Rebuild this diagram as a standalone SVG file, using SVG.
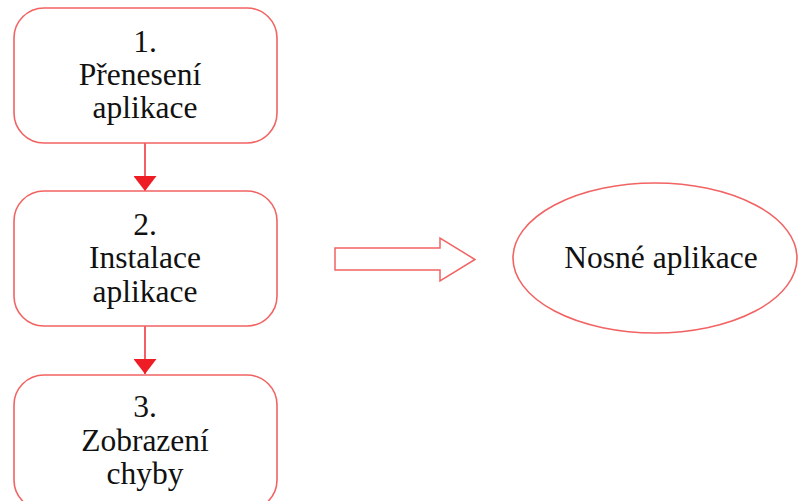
<svg xmlns="http://www.w3.org/2000/svg" width="798" height="501" viewBox="0 0 798 501">
<defs>
<style>
.box{fill:#fff;stroke:#f26363;stroke-width:1.6}
.t{font-size:31.5px;fill:#111;text-anchor:middle}
.c{stroke:#ee2a34;stroke-width:1.5;fill:none}
</style>
<marker id="ah" markerWidth="15" markerHeight="23" refX="23" refY="7.5" orient="auto" markerUnits="userSpaceOnUse" viewBox="0 0 23 15" preserveAspectRatio="none">
<path d="M0,0 L23,7.5 L0,15 Z" fill="#ee1c25"/>
</marker>
</defs>
<rect width="798" height="501" fill="#fff"/>
<g id="connectors">
<line class="c" x1="145" y1="143" x2="145" y2="191" marker-end="url(#ah)"/>
<line class="c" x1="145" y1="326" x2="145" y2="374" marker-end="url(#ah)"/>
<path id="block-arrow" d="M335,248 L440,248 L440,238 L475,259.5 L440,281 L440,270 L335,270 Z" fill="#fff" stroke="#f26363" stroke-width="1.5"/>
</g>
<g font-family="'Liberation Serif', 'Times New Roman', Times, serif">
<g id="node1">
<rect class="box" x="14" y="8" width="263" height="135" rx="30"/>
<text class="t" x="145" y="52">1.</text>
<text class="t" x="140" y="85">Přenesení</text>
<text class="t" x="145" y="118">aplikace</text>
</g>
<g id="node2">
<rect class="box" x="14" y="191" width="263" height="135" rx="30"/>
<text class="t" x="145" y="235">2.</text>
<text class="t" x="145" y="268">Instalace</text>
<text class="t" x="145" y="302">aplikace</text>
</g>
<g id="node3">
<rect class="box" x="14" y="375" width="263" height="135" rx="30"/>
<text class="t" x="145" y="417">3.</text>
<text class="t" x="145" y="451">Zobrazení</text>
<text class="t" x="145" y="484">chyby</text>
</g>
<g id="node4">
<ellipse class="box" cx="655" cy="258" rx="142" ry="75"/>
<text class="t" x="661" y="268">Nosné aplikace</text>
</g>
</g>
</svg>
